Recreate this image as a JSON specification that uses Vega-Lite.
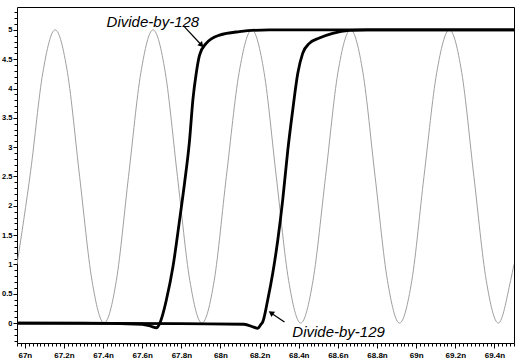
{
  "$schema": "https://vega.github.io/schema/vega-lite/v6.json",
  "width": 497,
  "height": 336,
  "autosize": {"type": "none"},
  "padding": {"left": 17, "top": 7, "right": 9, "bottom": 21},
  "background": "white",
  "config": {
    "view": {"stroke": "black", "strokeWidth": 1},
    "axis": {"grid": false, "domain": false, "labelFont": "Liberation Sans", "labelFontWeight": "bold", "labelFontSize": 8, "labelColor": "black", "tickColor": "black", "title": null}
  },
  "datasets": {
    "sine": [
      {"t": 66.96, "v": 1.0}, {"t": 67.03, "v": 2.6}, {"t": 67.092, "v": 4.27}, {"t": 67.155, "v": 5}, {"t": 67.218, "v": 4.27}, {"t": 67.28, "v": 2.5}, {"t": 67.343, "v": 0.73}, {"t": 67.405, "v": 0},
      {"t": 67.468, "v": 0.73}, {"t": 67.53, "v": 2.5}, {"t": 67.593, "v": 4.27}, {"t": 67.655, "v": 5}, {"t": 67.718, "v": 4.27}, {"t": 67.78, "v": 2.5}, {"t": 67.843, "v": 0.73}, {"t": 67.905, "v": 0},
      {"t": 67.968, "v": 0.73}, {"t": 68.03, "v": 2.5}, {"t": 68.095, "v": 4.27}, {"t": 68.16, "v": 5}, {"t": 68.223, "v": 4.27}, {"t": 68.285, "v": 2.5}, {"t": 68.348, "v": 0.73}, {"t": 68.41, "v": 0},
      {"t": 68.473, "v": 0.73}, {"t": 68.537, "v": 2.5}, {"t": 68.6, "v": 4.27}, {"t": 68.665, "v": 5}, {"t": 68.728, "v": 4.27}, {"t": 68.79, "v": 2.5}, {"t": 68.853, "v": 0.73}, {"t": 68.915, "v": 0},
      {"t": 68.978, "v": 0.73}, {"t": 69.04, "v": 2.5}, {"t": 69.105, "v": 4.27}, {"t": 69.17, "v": 5}, {"t": 69.233, "v": 4.27}, {"t": 69.295, "v": 2.5}, {"t": 69.358, "v": 0.73}, {"t": 69.42, "v": 0},
      {"t": 69.483, "v": 0.73}, {"t": 69.5, "v": 1.0}
    ],
    "d128": [
      {"t": 66.96, "v": 0}, {"t": 67.3, "v": 0}, {"t": 67.6, "v": -0.02}, {"t": 67.65, "v": -0.06}, {"t": 67.672, "v": -0.08}, {"t": 67.69, "v": 0.0}, {"t": 67.705, "v": 0.15}, {"t": 67.723, "v": 0.39},
      {"t": 67.757, "v": 0.96}, {"t": 67.791, "v": 1.76}, {"t": 67.816, "v": 2.38}, {"t": 67.842, "v": 3.12}, {"t": 67.859, "v": 3.81}, {"t": 67.876, "v": 4.26}, {"t": 67.893, "v": 4.57}, {"t": 67.927, "v": 4.77},
      {"t": 67.995, "v": 4.91}, {"t": 68.097, "v": 4.97}, {"t": 68.25, "v": 5}, {"t": 69.5, "v": 5}
    ],
    "d129": [
      {"t": 66.96, "v": 0}, {"t": 67.8, "v": -0.01}, {"t": 68.12, "v": -0.02}, {"t": 68.17, "v": -0.07}, {"t": 68.19, "v": -0.09}, {"t": 68.205, "v": -0.03}, {"t": 68.216, "v": 0.02}, {"t": 68.241, "v": 0.39},
      {"t": 68.267, "v": 0.85}, {"t": 68.293, "v": 1.42}, {"t": 68.318, "v": 2.1}, {"t": 68.344, "v": 2.95}, {"t": 68.369, "v": 3.63}, {"t": 68.395, "v": 4.26}, {"t": 68.42, "v": 4.6}, {"t": 68.454, "v": 4.77},
      {"t": 68.505, "v": 4.86}, {"t": 68.573, "v": 4.94}, {"t": 68.658, "v": 4.99}, {"t": 68.75, "v": 5}, {"t": 69.5, "v": 5}
    ],
    "labels": [
      {"t": 67.418, "v": 5.14, "label": "Divide-by-128"},
      {"t": 68.367, "v": -0.15, "label": "Divide-by-129"}
    ],
    "arrows": [
      {"t": 67.816, "v": 5.05, "t2": 67.9, "v2": 4.75, "angle": 137},
      {"t": 68.327, "v": 0.017, "t2": 68.262, "v2": 0.165, "angle": 305}
    ]
  },
  "layer": [
    {
      "data": {"name": "sine"},
      "mark": {"type": "line", "color": "#a0a0a0", "strokeWidth": 1, "interpolate": "monotone", "clip": true},
      "encoding": {
        "x": {"field": "t", "type": "quantitative", "scale": {"domain": [66.96, 69.5], "nice": false, "zero": false},
          "axis": {"orient": "bottom", "values": [67, 67.2, 67.4, 67.6, 67.8, 68, 68.2, 68.4, 68.6, 68.8, 69, 69.2, 69.4], "labelExpr": "format(datum.value, '.1~f') + 'n'", "tickSize": 5, "labelPadding": 3}},
        "y": {"field": "v", "type": "quantitative", "scale": {"domain": [-0.34, 5.39], "nice": false, "zero": false},
          "axis": {"orient": "left", "values": [0, 0.5, 1, 1.5, 2, 2.5, 3, 3.5, 4, 4.5, 5], "labelExpr": "format(datum.value, '.1~f')", "tickSize": 4, "labelPadding": 1, "labelFontSize": 7.5}}
      }
    },
    {
      "data": {"name": "d128"},
      "mark": {"type": "line", "color": "black", "strokeWidth": 2.8, "interpolate": "monotone", "clip": true},
      "encoding": {
        "x": {"field": "t", "type": "quantitative", "scale": {"domain": [66.96, 69.5], "nice": false, "zero": false},
          "axis": {"orient": "bottom", "tickCount": 127, "labels": false, "tickSize": 3}},
        "y": {"field": "v", "type": "quantitative", "scale": {"domain": [-0.34, 5.39], "nice": false, "zero": false},
          "axis": {"orient": "left", "tickCount": 57, "labels": false, "tickSize": 3}}
      }
    },
    {
      "data": {"name": "d129"},
      "mark": {"type": "line", "color": "black", "strokeWidth": 2.8, "interpolate": "monotone", "clip": true},
      "encoding": {
        "x": {"field": "t", "type": "quantitative", "scale": {"domain": [66.96, 69.5], "nice": false, "zero": false}, "axis": null},
        "y": {"field": "v", "type": "quantitative", "scale": {"domain": [-0.34, 5.39], "nice": false, "zero": false}, "axis": null}
      }
    },
    {
      "data": {"name": "arrows"},
      "mark": {"type": "rule", "color": "black", "strokeWidth": 1.2},
      "encoding": {
        "x": {"field": "t", "type": "quantitative", "scale": {"domain": [66.96, 69.5], "nice": false, "zero": false}, "axis": null},
        "y": {"field": "v", "type": "quantitative", "scale": {"domain": [-0.34, 5.39], "nice": false, "zero": false}, "axis": null},
        "x2": {"field": "t2"},
        "y2": {"field": "v2"}
      }
    },
    {
      "data": {"name": "arrows"},
      "mark": {"type": "point", "shape": "triangle", "filled": true, "color": "black", "size": 40, "opacity": 1},
      "encoding": {
        "x": {"field": "t2", "type": "quantitative", "scale": {"domain": [66.96, 69.5], "nice": false, "zero": false}, "axis": null},
        "y": {"field": "v2", "type": "quantitative", "scale": {"domain": [-0.34, 5.39], "nice": false, "zero": false}, "axis": null},
        "angle": {"field": "angle", "type": "quantitative", "scale": null}
      }
    },
    {
      "data": {"name": "labels"},
      "mark": {"type": "text", "font": "Liberation Sans", "fontStyle": "italic", "fontSize": 15, "align": "left", "baseline": "middle", "color": "black"},
      "encoding": {
        "x": {"field": "t", "type": "quantitative", "scale": {"domain": [66.96, 69.5], "nice": false, "zero": false}, "axis": null},
        "y": {"field": "v", "type": "quantitative", "scale": {"domain": [-0.34, 5.39], "nice": false, "zero": false}, "axis": null},
        "text": {"field": "label"}
      }
    }
  ],
  "resolve": {"axis": {"x": "independent", "y": "independent"}}
}
